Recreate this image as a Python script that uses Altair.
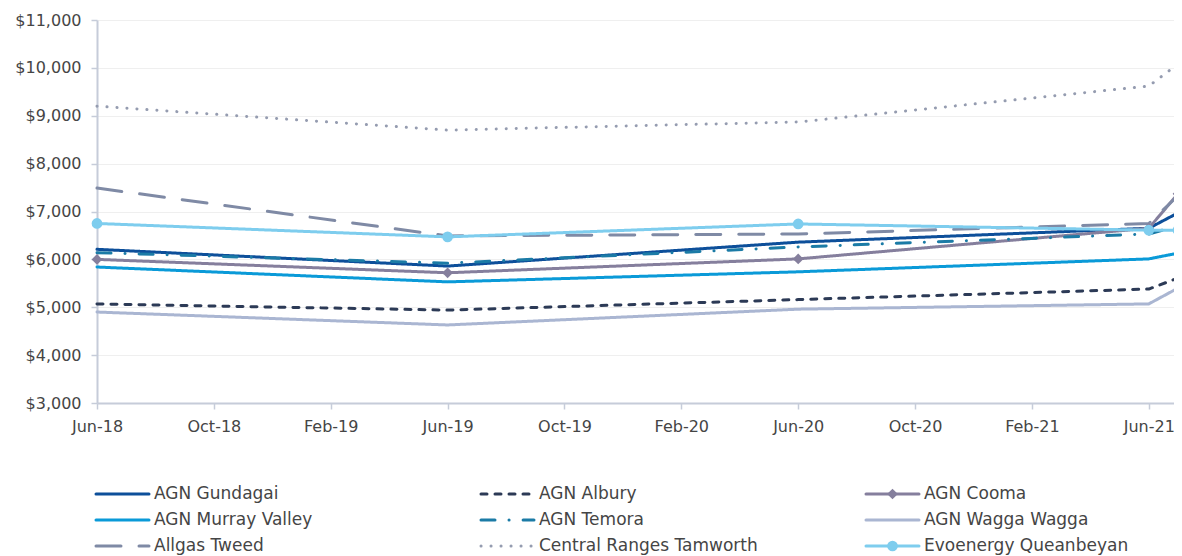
import altair as alt
import pandas as pd

# ---------------- data ----------------
series_names = [
    "AGN Gundagai", "AGN Albury", "AGN Cooma",
    "AGN Murray Valley", "AGN Temora", "AGN Wagga Wagga",
    "Allgas Tweed", "Central Ranges Tamworth", "Evoenergy Queanbeyan",
]
period_labels = ["Jun-18", "Jun-19", "Jun-20", "Jun-21", "Jul-21"]
period_month_index = [0, 12, 24, 36, 37]
tick_labels = ["Jun-18", "Oct-18", "Feb-19", "Jun-19", "Oct-19",
               "Feb-20", "Jun-20", "Oct-20", "Feb-21", "Jun-21"]
tick_month_index = [0, 4, 8, 12, 16, 20, 24, 28, 32, 36]

agn_gundagai = [6210, 5860, 6360, 6650, 6970]
agn_albury = [5070, 4940, 5160, 5380, 5610]
agn_cooma = [6000, 5720, 6010, 6650, 7370]
agn_murray_valley = [5840, 5530, 5740, 6010, 6130]
agn_temora = [6140, 5920, 6260, 6530, 6700]
agn_wagga_wagga = [4900, 4630, 4960, 5070, 5400]
allgas_tweed = [7490, 6490, 6530, 6750, 7330]
central_ranges_tamworth = [9200, 8700, 8870, 9620, 10080]
evoenergy_queanbeyan = [6750, 6470, 6740, 6610, 6610]

series_values = [
    agn_gundagai, agn_albury, agn_cooma,
    agn_murray_valley, agn_temora, agn_wagga_wagga,
    allgas_tweed, central_ranges_tamworth, evoenergy_queanbeyan,
]

# ---------------- styles ----------------
colors = ["#0d4f9a", "#2c3a56", "#857f9d", "#0a9ad8", "#1b7ba6",
          "#aab6d2", "#7f8aa5", "#959cb0", "#7ecdee"]
dashes = [[1, 0], [6, 8], [1, 0], [1, 0], [14, 14, 0.1, 14],
          [1, 0], [25, 18], [0.1, 9.9], [1, 0]]
widths = [3, 3, 3, 3, 3, 3, 3, 4.8, 3]
marker_series = ["AGN Cooma", "Evoenergy Queanbeyan"]
marker_shapes = ["diamond", "circle"]

FONT = "DejaVu Sans"
AXIS_FSIZE = 16
LEG_FSIZE = 17
TEXT = "#454545"
AXIS = "#c6ccd9"

rows = []
for name, vals in zip(series_names, series_values):
    for lab, idx, v in zip(period_labels, period_month_index, vals):
        rows.append({"series": name, "period": lab, "month": idx, "value": v})
df = pd.DataFrame(rows)

color_scale = alt.Scale(domain=series_names, range=colors)
dash_scale = alt.Scale(domain=series_names, range=dashes)
width_scale = alt.Scale(domain=series_names, range=widths)
shape_scale = alt.Scale(domain=marker_series, range=marker_shapes)

label_expr = "[" + ",".join("'%s'" % t for t in tick_labels) + "][datum.value / 4]"

x_enc = alt.X("month:Q",
              scale=alt.Scale(domain=[0, 37], nice=False, zero=False),
              axis=alt.Axis(values=tick_month_index, labelExpr=label_expr,
                            grid=False, tickSize=6, labelPadding=9, labelFlush=False,
                            domainColor=AXIS, tickColor=AXIS, domainWidth=2, tickWidth=1.5,
                            labelFont=FONT, labelFontSize=AXIS_FSIZE, labelColor=TEXT,
                            minExtent=32, maxExtent=32, title=None))
y_enc = alt.Y("value:Q",
              scale=alt.Scale(domain=[3000, 11000], nice=False, zero=False),
              axis=alt.Axis(values=list(range(3000, 11001, 1000)), format="$,.0f",
                            grid=True, gridColor="#efefef", gridWidth=1,
                            tickSize=6, labelPadding=10,
                            domainColor=AXIS, tickColor=AXIS, domainWidth=2, tickWidth=1.5,
                            labelFont=FONT, labelFontSize=AXIS_FSIZE, labelColor=TEXT,
                            minExtent=84, maxExtent=84, title=None))

lines = alt.Chart(df).mark_line(strokeCap="round", strokeJoin="round").encode(
    x=x_enc, y=y_enc,
    color=alt.Color("series:N", scale=color_scale, legend=None),
    strokeDash=alt.StrokeDash("series:N", scale=dash_scale, legend=None),
    strokeWidth=alt.StrokeWidth("series:N", scale=width_scale, legend=None),
    order="month:Q",
)
points = alt.Chart(df).transform_filter(
    alt.FieldOneOfPredicate(field="series", oneOf=marker_series)
).mark_point(filled=True, opacity=1, size=115).encode(
    x="month:Q", y="value:Q",
    color=alt.Color("series:N", scale=color_scale, legend=None),
    shape=alt.Shape("series:N", scale=shape_scale, legend=None),
)
main = alt.layer(lines, points).properties(width=1081, height=383)

# ---------------- legend panel (3 columns x 3 rows) ----------------
col_step = 385.0
sym_len = 53 / col_step
text_gap = 58 / col_step
leg_rows = []
for i, name in enumerate(series_names):
    c, r = i % 3, i // 3
    leg_rows.append({"series": name, "x0": c, "x1": c + sym_len,
                     "xm": c + sym_len / 2, "xt": c + text_gap, "row": r})
leg = pd.DataFrame(leg_rows)
lx = alt.Scale(domain=[1 / col_step, (1081 + 1) / col_step], nice=False, zero=False)
ly = alt.Scale(domain=[-0.5, 2.5], reverse=True, nice=False, zero=False)

leg_rules = alt.Chart(leg).mark_rule(strokeCap="round").encode(
    x=alt.X("x0:Q", scale=lx, axis=None), x2="x1:Q",
    y=alt.Y("row:Q", scale=ly, axis=None),
    color=alt.Color("series:N", scale=color_scale, legend=None),
    strokeDash=alt.StrokeDash("series:N", scale=dash_scale, legend=None),
    strokeWidth=alt.StrokeWidth("series:N", scale=width_scale, legend=None),
)
leg_points = alt.Chart(leg).transform_filter(
    alt.FieldOneOfPredicate(field="series", oneOf=marker_series)
).mark_point(filled=True, opacity=1, size=115).encode(
    x=alt.X("xm:Q", scale=lx, axis=None),
    y=alt.Y("row:Q", scale=ly, axis=None),
    color=alt.Color("series:N", scale=color_scale, legend=None),
    shape=alt.Shape("series:N", scale=shape_scale, legend=None),
)
leg_text = alt.Chart(leg).mark_text(align="left", baseline="middle", font=FONT,
                                    fontSize=LEG_FSIZE, color=TEXT).encode(
    x=alt.X("xt:Q", scale=lx, axis=None),
    y=alt.Y("row:Q", scale=ly, axis=None),
    text="series:N",
)
legend_panel = alt.layer(leg_rules, leg_points, leg_text).properties(width=1081, height=78)

chart = alt.vconcat(main, legend_panel, spacing=46).properties(
    padding={"left": 5, "top": 4, "right": -10, "bottom": 0}
).configure_view(stroke=None)

chart.save("out.html", embed_options={"renderer": "svg", "actions": False})
